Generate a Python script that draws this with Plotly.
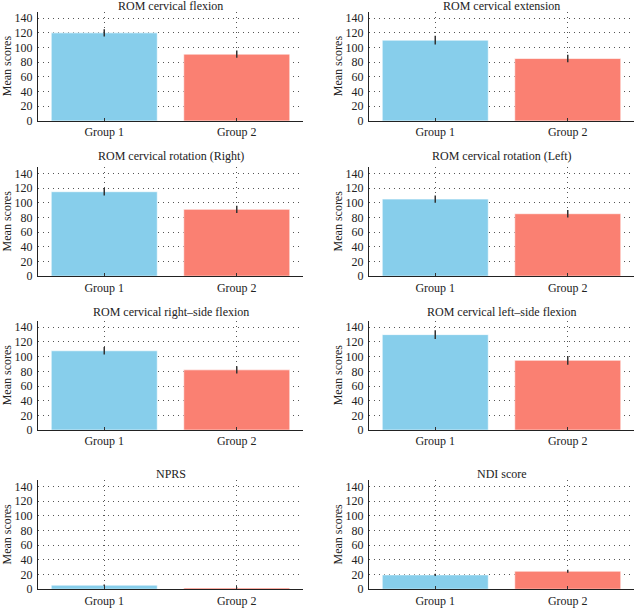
import plotly.graph_objects as go

panel_titles = [
    "ROM cervical flexion", "ROM cervical extension",
    "ROM cervical rotation (Right)", "ROM cervical rotation (Left)",
    "ROM cervical right\u2013side flexion", "ROM cervical left\u2013side flexion",
    "NPRS", "NDI score",
]
groups = ["Group 1", "Group 2"]
group1_means = [120, 110, 115, 105, 108, 130, 5.5, 19.5]
group2_means = [91, 85, 91, 85, 82, 95, 1.8, 24.5]
group1_err = [5, 6, 5, 5, 5, 6, 1.0, 1.5]
group2_err = [5, 5, 5, 5, 5, 6, 0.5, 2.0]
y_ticks = [0, 20, 40, 60, 80, 100, 120, 140]
colors = ["#87CEEB", "#FA8072"]

W, H = 634, 613
col_x = [(38, 303), (369, 634)]
row_y = [(11.7, 122.3), (168.7, 279.3), (324.4, 435), (485.4, 596)]
title_y = [6.5, 158.3, 316, 479.3]

FONT = "Liberation Serif"
fig = go.Figure()
layout = dict(
    width=W, height=H, margin=dict(l=0, r=0, t=0, b=0),
    paper_bgcolor="white", plot_bgcolor="white", showlegend=False,
    bargap=0.2, font=dict(family=FONT, size=11, color="#222"),
)
annotations = []
for i, title in enumerate(panel_titles):
    r, c = divmod(i, 2)
    idx = "" if i == 0 else str(i + 1)
    x0, x1 = col_x[c]
    yt, yb = row_y[r]
    fig.add_trace(go.Bar(
        x=groups, y=[group1_means[i], group2_means[i]],
        marker=dict(color=colors, line=dict(color="rgba(255,255,255,0.6)", width=1)),
        error_y=dict(type="data", array=[group1_err[i], group2_err[i]],
                     color="#333", thickness=1.5, width=0),
        xaxis="x" + idx, yaxis="y" + idx,
    ))
    layout["xaxis" + idx] = dict(
        domain=[x0 / W, x1 / W], anchor="y" + idx,
        showline=True, linecolor="#222", linewidth=1,
        ticks="inside", ticklen=3, tickcolor="#333",
        showgrid=True, gridcolor="#555", griddash="1px,4px", gridwidth=1,
        tickfont=dict(family=FONT, size=12, color="#222"),
        range=[-0.5, 1.5], fixedrange=True,
    )
    layout["yaxis" + idx] = dict(
        domain=[1 - yb / H, 1 - yt / H], anchor="x" + idx,
        range=[0, 149], tickvals=y_ticks,
        showline=True, linecolor="#222", linewidth=1,
        showgrid=True, gridcolor="#555", griddash="1px,4px", gridwidth=1,
        zeroline=False, ticks="", ticklabelstandoff=2,
        tickfont=dict(family=FONT, size=12, color="#222"),
    )
    annotations.append(dict(
        text=title, xref="paper", yref="paper",
        x=(x0 + x1) / 2 / W, y=1 - title_y[r] / H,
        xanchor="center", yanchor="middle", showarrow=False,
        font=dict(family=FONT, size=12, color="#222"),
    ))
    annotations.append(dict(
        text="Mean scores", xref="paper", yref="paper",
        x=(x0 - 31) / W, y=1 - (yt + yb) / 2 / H, textangle=-90,
        xanchor="center", yanchor="middle", showarrow=False,
        font=dict(family=FONT, size=12, color="#222"),
    ))
layout["annotations"] = annotations
fig.update_layout(**layout)
fig.write_html(
    "out.html",
    config={"displayModeBar": False},
    post_script="document.body.style.margin='0';document.body.style.overflow='hidden';",
)
